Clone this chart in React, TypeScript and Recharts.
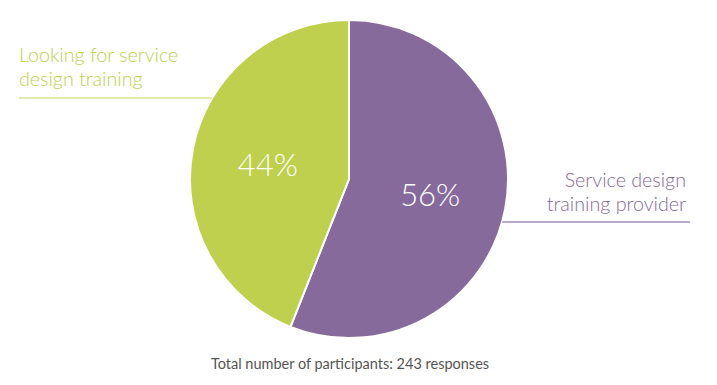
import React from 'react';
import { PieChart, Pie, Cell } from 'recharts';

const categories = ['Service design training provider', 'Looking for service design training'];
const shares = [56, 44];
const calloutLines = [
    ['Service design', 'training provider'],
    ['Looking for service', 'design training'],
];
const footnote = 'Total number of participants: 243 responses';

const COLORS = ['#866a9b', '#bed04e'];
const LINE_COLORS = ['#a48bb8', '#d5e296'];
const FONT = 'Lato, "Open Sans", sans-serif';
const RAD = Math.PI / 180;

const data = categories.map((name, i) => ({ name, value: shares[i] }));

const renderLabel = (props: any) => {
    const { cx, cy, midAngle, outerRadius, index, value } = props;
    const r = outerRadius * 0.52;
    const x = cx + r * Math.cos(-midAngle * RAD);
    const y = cy + r * Math.sin(-midAngle * RAD);
    const right = index === 0;
    // callout text + rule line
    const lineY = right ? cy + 43 : cy - 81;
    const dy = lineY - cy;
    const edge = Math.sqrt(outerRadius * outerRadius - dy * dy);
    const lines = calloutLines[index];
    return (
        <g>
            <text
                x={x}
                y={y}
                fill="#fff"
                textAnchor="middle"
                dominantBaseline="central"
                fontFamily={FONT}
                fontWeight={300}
                fontSize={31}
            >
                {`${value}%`}
            </text>
            {right ? (
                <line x1={cx + edge} y1={lineY} x2={690} y2={lineY} stroke={LINE_COLORS[0]} strokeWidth={1.5} />
            ) : (
                <line x1={19} y1={lineY} x2={cx - edge} y2={lineY} stroke={LINE_COLORS[1]} strokeWidth={1.5} />
            )}
            {lines.map((t, k) => (
                <text
                    key={k}
                    x={right ? 686 : 19}
                    y={(right ? 187 : 62) + k * 24}
                    textAnchor={right ? 'end' : 'start'}
                    fill={COLORS[index]}
                    fontFamily={FONT}
                    fontWeight={300}
                    fontSize={19.7}
                >
                    {t}
                </text>
            ))}
        </g>
    );
};

export default function App() {
    return (
        <div style={{ position: 'absolute', left: 0, top: 0, width: 717, height: 385, background: '#fff' }}>
            <PieChart width={717} height={385} margin={{ top: 0, right: 0, bottom: 0, left: 0 }}>
                <Pie
                    data={data}
                    dataKey="value"
                    cx={349}
                    cy={179}
                    outerRadius={159}
                    startAngle={90}
                    endAngle={-270}
                    stroke="#fff"
                    strokeWidth={2}
                    label={renderLabel}
                    labelLine={false}
                    isAnimationActive={false}
                >
                    {data.map((d, i) => (
                        <Cell key={d.name} fill={COLORS[i]} />
                    ))}
                </Pie>
            </PieChart>
            <div
                style={{
                    position: 'absolute',
                    left: 0,
                    width: 700,
                    top: 355,
                    textAlign: 'center',
                    fontFamily: FONT,
                    fontSize: 14.5,
                    color: '#555',
                }}
            >
                {footnote}
            </div>
        </div>
    );
}
